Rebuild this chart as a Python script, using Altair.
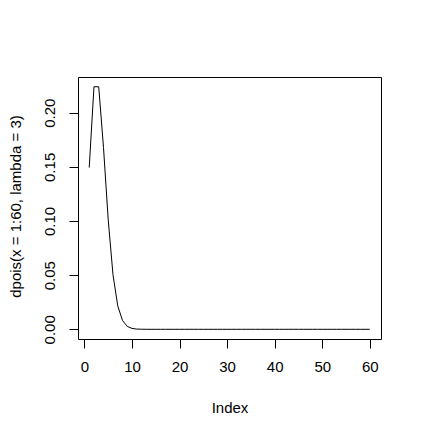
import altair as alt
import pandas as pd

index = list(range(1, 61))
dens_head = [0.1494, 0.2240, 0.2240, 0.1680, 0.1008, 0.0504, 0.0216, 0.0081,
             0.0027, 0.0008, 0.0002, 0.00006, 0.00001]
dens = dens_head + [0.0] * (60 - len(dens_head))

x_ticks = [0, 10, 20, 30, 40, 50, 60]
y_ticks = [0.00, 0.05, 0.10, 0.15, 0.20]

df = pd.DataFrame({"Index": index, "dens": dens})

FONT = "Liberation Sans"
FS = 15

chart = alt.Chart(df).mark_line(color="black", strokeWidth=1, clip=True).encode(
    x=alt.X("Index:Q",
            scale=alt.Scale(domain=[-1.36, 62.36], nice=False, zero=False),
            axis=alt.Axis(values=x_ticks, title="Index", grid=False, domain=False,
                          tickSize=9, tickColor="black", tickWidth=1,
                          labelFont=FONT, labelFontSize=FS, labelColor="black",
                          labelBaseline="alphabetic", labelPadding=23.5,
                          labelFlush=False, labelOverlap=False,
                          titleFont=FONT, titleFontSize=FS, titleFontWeight="normal",
                          titleColor="black", titleBaseline="alphabetic",
                          titleY=73.7, titleX=151.5, titleAnchor="middle",
                          titleAlign="center")),
    y=alt.Y("dens:Q",
            scale=alt.Scale(domain=[-0.00896, 0.23301], nice=False, zero=False),
            axis=alt.Axis(values=y_ticks, format=".2f",
                          title="dpois(x = 1:60, lambda = 3)", grid=False, domain=False,
                          tickSize=9, tickColor="black", tickWidth=1,
                          labelFont=FONT, labelFontSize=FS, labelColor="black",
                          labelAngle=270, labelAlign="center",
                          labelBaseline="alphabetic", labelPadding=15,
                          labelFlush=False, labelOverlap=False,
                          titleFont=FONT, titleFontSize=FS, titleFontWeight="normal",
                          titleColor="black", titleAngle=270,
                          titleBaseline="alphabetic", titleAlign="center",
                          titleX=-58, titleY=129)),
).properties(
    width=303, height=262,
    autosize=alt.AutoSizeParams(type="none"),
    padding={"left": 70, "top": 69, "right": 33, "bottom": 90},
    background="white",
).configure_view(stroke="black", strokeWidth=1)

chart.save("out.html", embed_options={"renderer": "svg", "actions": False})
